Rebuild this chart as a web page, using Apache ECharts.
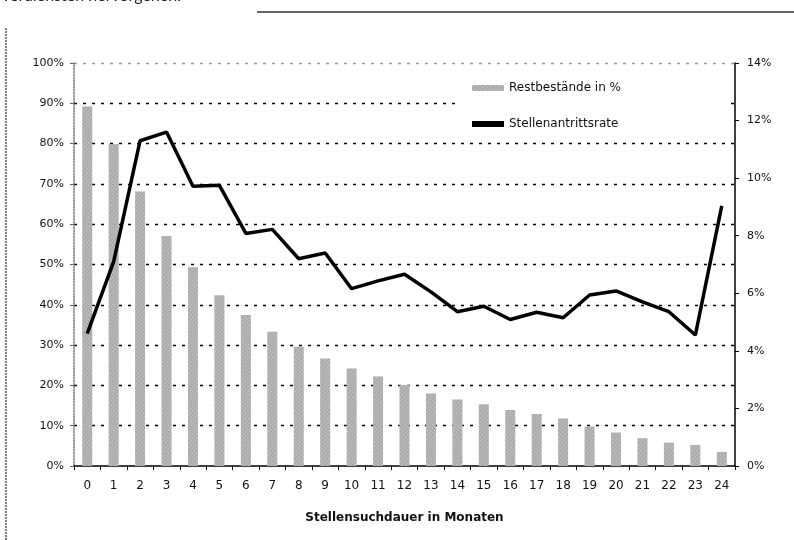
<!DOCTYPE html>
<html><head><meta charset="utf-8">
<script src="https://cdn.jsdelivr.net/npm/echarts@6/dist/echarts.min.js"></script>
<style>html,body{margin:0;padding:0;background:#fff}#c{width:794px;height:540px}</style>
</head><body><div id="c"></div>
<script>
const categories = ['0','1','2','3','4','5','6','7','8','9','10','11','12','13','14','15','16','17','18','19','20','21','22','23','24'];
const restbestand = [89.2,79.9,68.1,57.1,49.3,42.4,37.5,33.3,29.6,26.7,24.2,22.2,20.1,18.0,16.5,15.3,13.9,12.9,11.8,9.8,8.3,6.9,5.8,5.2,3.5];
const antrittsrate = [4.6,7.1,11.3,11.6,9.72,9.75,8.08,8.22,7.2,7.4,6.16,6.43,6.66,6.05,5.36,5.55,5.09,5.34,5.15,5.94,6.08,5.7,5.36,4.55,9.04];
const leftTicks = {min:0,max:100,interval:10};
const rightTicks = {min:0,max:14,interval:2};

const chart = echarts.init(document.getElementById('c'));
const font = 'DejaVu Sans';
const gridColors = ['transparent','#000','#000','#000','#000','#000','#000','#000','#000','#000','#999'];
chart.setOption({
  backgroundColor:'#fff',
  aria:{enabled:false, decal:{show:true}},
  animation:false,
  textStyle:{fontFamily:font},
  grid:{left:74,right:59,top:63,bottom:74,containLabel:false},
  legend:{
    orient:'vertical', left:458, top:72, itemGap:24,
    backgroundColor:'#fff', padding:[10,108,8,14],
    itemWidth:32, itemHeight:6,
    textStyle:{fontFamily:font,fontSize:12,color:'#111'},
    data:[{name:'Restbestände in %'},{name:'Stellenantrittsrate', icon:'rect', itemStyle:{color:'#000'}}]
  },
  xAxis:{
    type:'category', data:categories, boundaryGap:true,
    name:'Stellensuchdauer in Monaten', nameLocation:'middle', nameGap:46,
    nameTextStyle:{fontFamily:font,fontSize:12,fontWeight:'bold',color:'#111'},
    axisLine:{lineStyle:{color:'#000',width:1.5}},
    axisTick:{show:true,length:4,lineStyle:{color:'#000'}},
    axisLabel:{fontFamily:font,fontSize:12,color:'#111',margin:14,interval:0}
  },
  yAxis:[{
    type:'value', position:'left', min:leftTicks.min, max:leftTicks.max, interval:leftTicks.interval,
    axisLine:{show:true,lineStyle:{color:'#777',type:'dotted',width:1.5}},
    axisTick:{show:true,length:4,lineStyle:{color:'#666'}},
    axisLabel:{fontFamily:font,fontSize:11,color:'#111',formatter:'{value}%',margin:10},
    splitLine:{show:true,lineStyle:{color:gridColors,type:[3,6],width:1.3}}
  },{
    type:'value', position:'right', min:rightTicks.min, max:rightTicks.max, interval:rightTicks.interval,
    axisLine:{show:true,lineStyle:{color:'#000',width:1.5}},
    axisTick:{show:true,length:4,lineStyle:{color:'#000'}},
    axisLabel:{fontFamily:font,fontSize:11,color:'#111',formatter:'{value}%',margin:12},
    splitLine:{show:false}
  }],
  series:[{
    name:'Restbestände in %', type:'bar', yAxisIndex:0, data:restbestand, barWidth:10,
    itemStyle:{color:'#a8a8a8', decal:{symbol:'rect',symbolSize:0.6,color:'rgba(255,255,255,0.8)',dashArrayX:[2,1],dashArrayY:[2,1],rotation:0.7}}
  },{
    name:'Stellenantrittsrate', type:'line', yAxisIndex:1, data:antrittsrate,
    symbol:'none', lineStyle:{color:'#000',width:3.5}, itemStyle:{color:'#000'}, z:5
  }],
  graphic:[
    {type:'text', left:2, top:-12, style:{text:'verdiensten hervorgehen.', font:'16px Lato', fill:'#222'}},
    {type:'line', shape:{x1:257,y1:12,x2:794,y2:12}, style:{stroke:'#333',lineWidth:1.5}},
    {type:'line', shape:{x1:6,y1:28,x2:6,y2:540}, style:{stroke:'#555',lineWidth:1.5,lineDash:[2,1]}}
  ]
});
</script></body></html>
